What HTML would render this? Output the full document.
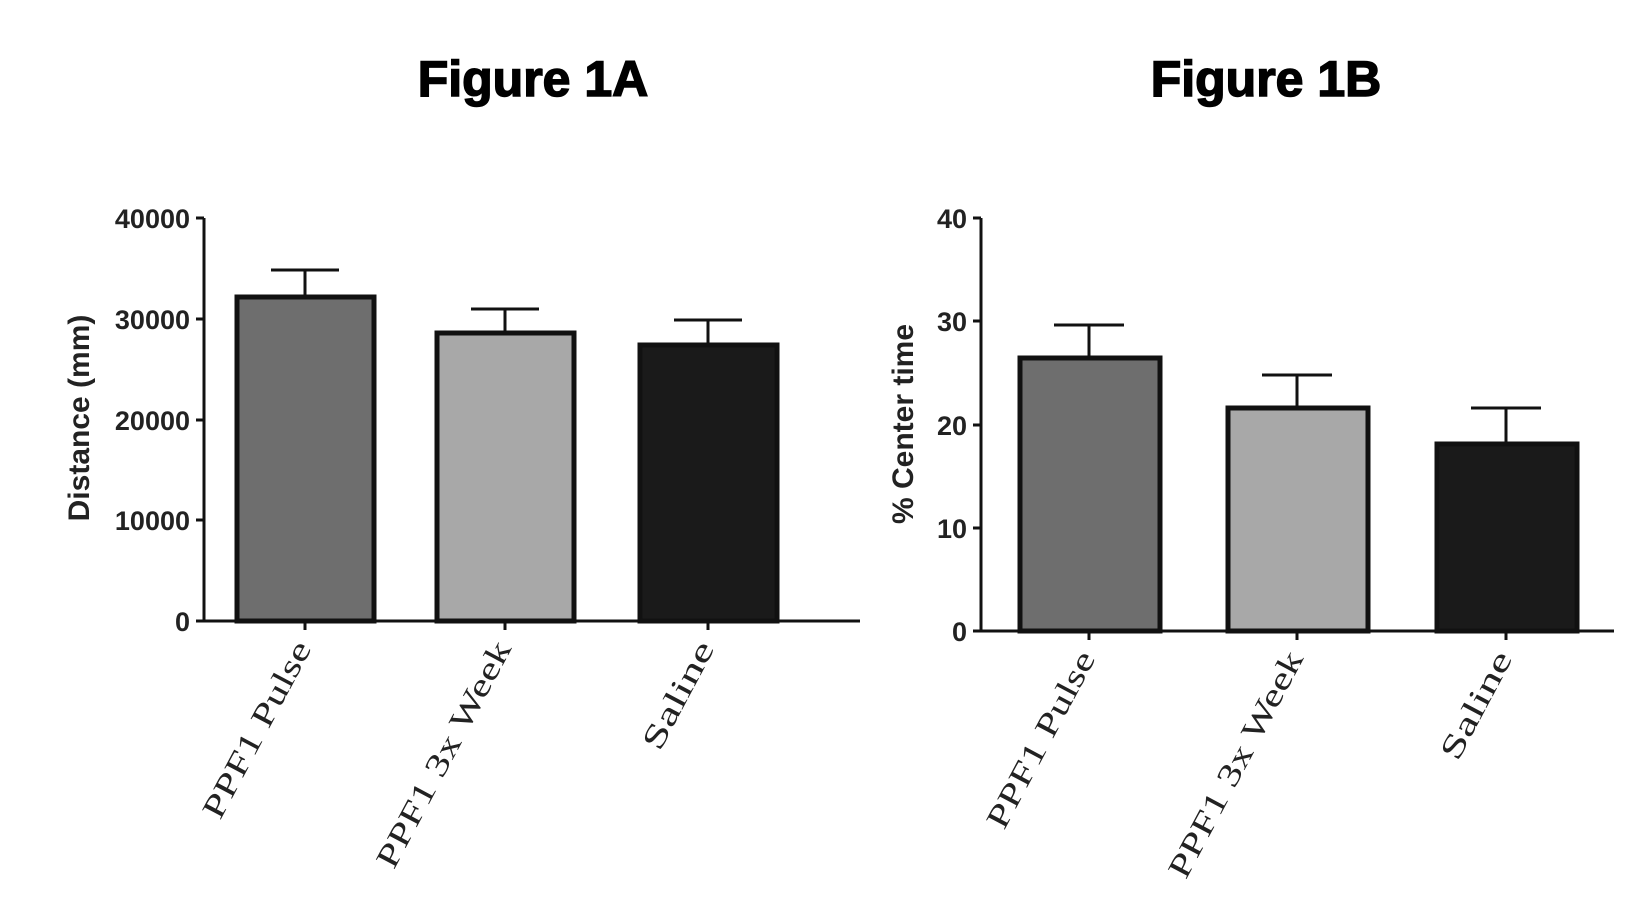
<!DOCTYPE html>
<html><head><style>body{margin:0;background:#fff}</style></head><body>
<svg width="1646" height="896" xmlns="http://www.w3.org/2000/svg" font-family="Liberation Sans, sans-serif">
<rect width="1646" height="896" fill="#fff"/>
<text x="533" y="96" font-size="50" font-weight="bold" text-anchor="middle" stroke="#000" stroke-width="1.5">Figure 1A</text>
<text x="1266" y="96" font-size="50" font-weight="bold" text-anchor="middle" stroke="#000" stroke-width="1.5">Figure 1B</text>
<!-- Fig A -->
<g stroke="#111" stroke-width="3" fill="none">
<line x1="204" y1="218" x2="204" y2="622"/>
<line x1="202" y1="621" x2="860" y2="621"/>
<line x1="196" y1="218" x2="204" y2="218"/><line x1="196" y1="319" x2="204" y2="319"/><line x1="196" y1="420" x2="204" y2="420"/><line x1="196" y1="520" x2="204" y2="520"/><line x1="196" y1="621" x2="204" y2="621"/>
<line x1="305" y1="621" x2="305" y2="630"/><line x1="505" y1="621" x2="505" y2="630"/><line x1="708" y1="621" x2="708" y2="630"/>
<line x1="305" y1="296" x2="305" y2="270"/><line x1="271" y1="270" x2="339" y2="270"/>
<line x1="505" y1="332" x2="505" y2="309"/><line x1="471" y1="309" x2="539" y2="309"/>
<line x1="708" y1="344" x2="708" y2="320"/><line x1="674" y1="320" x2="742" y2="320"/>
</g>
<rect x="237" y="297" width="137" height="324" fill="#6e6e6e" stroke="#111" stroke-width="5"/>
<rect x="437" y="333" width="137" height="288" fill="#a8a8a8" stroke="#111" stroke-width="5"/>
<rect x="640" y="345" width="137" height="276" fill="#1a1a1a" stroke="#111" stroke-width="5"/>
<g font-size="27" font-weight="bold" text-anchor="end" fill="#222">
<text x="190" y="228">40000</text><text x="190" y="329">30000</text><text x="190" y="430">20000</text><text x="190" y="530">10000</text><text x="190" y="631">0</text>
</g>
<text transform="translate(89,418) rotate(-90)" font-size="30" font-weight="bold" text-anchor="middle" fill="#222">Distance (mm)</text>
<g font-family="Liberation Serif, serif" font-size="32" text-anchor="end" fill="#222">
<text transform="translate(312,648) rotate(-62)" textLength="196" lengthAdjust="spacingAndGlyphs">PPF1 Pulse</text>
<text transform="translate(512,648) rotate(-62)" textLength="252" lengthAdjust="spacingAndGlyphs">PPF1 3x Week</text>
<text transform="translate(715,648) rotate(-62)" textLength="118" lengthAdjust="spacingAndGlyphs">Saline</text>
</g>
<!-- Fig B -->
<g stroke="#111" stroke-width="3" fill="none">
<line x1="981" y1="218" x2="981" y2="632"/>
<line x1="979" y1="631" x2="1614" y2="631"/>
<line x1="973" y1="218" x2="981" y2="218"/><line x1="973" y1="321" x2="981" y2="321"/><line x1="973" y1="425" x2="981" y2="425"/><line x1="973" y1="528" x2="981" y2="528"/><line x1="973" y1="631" x2="981" y2="631"/>
<line x1="1089" y1="631" x2="1089" y2="640"/><line x1="1297" y1="631" x2="1297" y2="640"/><line x1="1506" y1="631" x2="1506" y2="640"/>
<line x1="1089" y1="358" x2="1089" y2="325"/><line x1="1054" y1="325" x2="1124" y2="325"/>
<line x1="1297" y1="408" x2="1297" y2="375"/><line x1="1262" y1="375" x2="1332" y2="375"/>
<line x1="1506" y1="444" x2="1506" y2="408"/><line x1="1471" y1="408" x2="1541" y2="408"/>
</g>
<rect x="1020" y="358" width="140" height="273" fill="#6e6e6e" stroke="#111" stroke-width="5"/>
<rect x="1228" y="408" width="140" height="223" fill="#a8a8a8" stroke="#111" stroke-width="5"/>
<rect x="1437" y="444" width="140" height="187" fill="#1a1a1a" stroke="#111" stroke-width="5"/>
<g font-size="27" font-weight="bold" text-anchor="end" fill="#222">
<text x="967" y="228">40</text><text x="967" y="331">30</text><text x="967" y="435">20</text><text x="967" y="538">10</text><text x="967" y="641">0</text>
</g>
<text transform="translate(913,424) rotate(-90)" font-size="30" font-weight="bold" text-anchor="middle" fill="#222">% Center time</text>
<g font-family="Liberation Serif, serif" font-size="32" text-anchor="end" fill="#222">
<text transform="translate(1096,658) rotate(-62)" textLength="196" lengthAdjust="spacingAndGlyphs">PPF1 Pulse</text>
<text transform="translate(1304,658) rotate(-62)" textLength="252" lengthAdjust="spacingAndGlyphs">PPF1 3x Week</text>
<text transform="translate(1513,658) rotate(-62)" textLength="118" lengthAdjust="spacingAndGlyphs">Saline</text>
</g>
</svg>
</body></html>
